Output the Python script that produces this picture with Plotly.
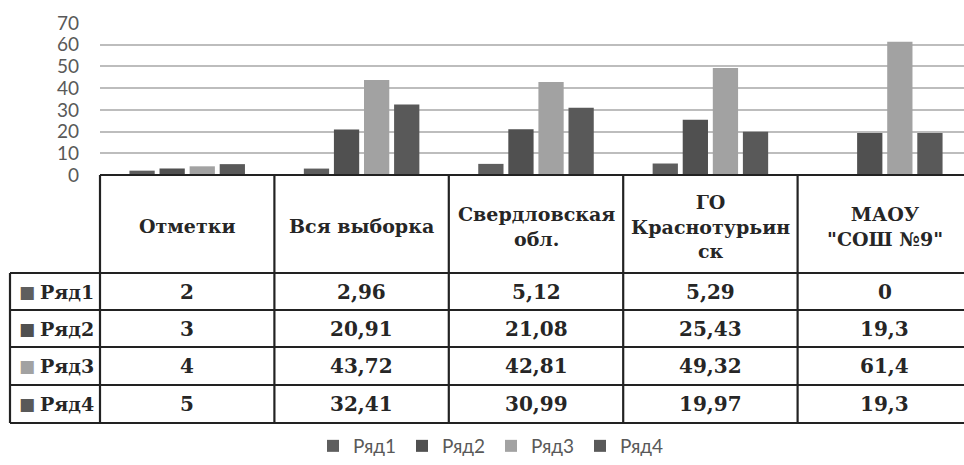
import plotly.graph_objects as go

categories = ["Отметки", "Вся выборка", "Свердловская обл.", "ГО Краснотурьинск", "МАОУ \"СОШ №9\""]
header_labels = ["Отметки", "Вся выборка", "Свердловская<br>обл.", "ГО<br>Краснотурьин<br>ск", "МАОУ<br>\"СОШ №9\""]
series_names = ["Ряд1", "Ряд2", "Ряд3", "Ряд4"]
row1 = [2, 2.96, 5.12, 5.29, 0]
row2 = [3, 20.91, 21.08, 25.43, 19.3]
row3 = [4, 43.72, 42.81, 49.32, 61.4]
row4 = [5, 32.41, 30.99, 19.97, 19.3]
series_values = [row1, row2, row3, row4]
y_ticks = [0, 10, 20, 30, 40, 50, 60, 70]

colors = ["#5e5e5e", "#505050", "#a2a2a2", "#595959"]

W, H = 964, 465
def px(x):
    return x / W
def py(y):
    return 1 - y / H

x_left = 100
cat_w = 174.4
y_top_axis = 23
y_zero = 175
row_lines = [273, 310, 347, 385, 423]
n = len(categories)

fig = go.Figure()
for name, vals, c in zip(series_names, series_values, colors):
    fig.add_trace(go.Bar(x=categories, y=vals, name=name, marker=dict(color=c, line=dict(width=0))))

fig.update_layout(
    width=W, height=H,
    margin=dict(l=0, r=0, t=0, b=0, pad=0),
    paper_bgcolor="white", plot_bgcolor="white",
    barmode="group", bargap=0.31, bargroupgap=0.16,
    font=dict(family="Lato, sans-serif", color="#595959"),
    xaxis=dict(domain=[px(x_left), 1], range=[-0.5, -0.5 + (W - x_left) / cat_w], automargin=False,
               showticklabels=False, showgrid=False, zeroline=False, showline=False, fixedrange=True),
    yaxis=dict(domain=[py(y_zero), py(y_top_axis)], range=[0, 70], tickvals=y_ticks, automargin=False,
               showgrid=True, gridcolor="#bdbdbd", gridwidth=1.5, zeroline=False, showline=False,
               tickfont=dict(size=19, color="#595959", family="Lato, sans-serif"),
               ticklabelstandoff=20),
    legend=dict(orientation="h", x=px(313), xanchor="left", y=py(446), yanchor="middle",
                font=dict(size=19, color="#595959", family="Lato, sans-serif"),
                itemwidth=30, entrywidth=44, entrywidthmode="pixels", traceorder="normal"),
    showlegend=True,
)

shapes = []
lc = "#222222"
lw = 2.2
shapes.append(dict(type="line", xref="paper", yref="paper", x0=px(x_left), x1=1, y0=py(y_zero), y1=py(y_zero), line=dict(color=lc, width=lw)))
for yl in row_lines:
    shapes.append(dict(type="line", xref="paper", yref="paper", x0=px(10), x1=1, y0=py(yl), y1=py(yl), line=dict(color=lc, width=lw)))
shapes.append(dict(type="line", xref="paper", yref="paper", x0=px(10), x1=px(10), y0=py(row_lines[0]), y1=py(row_lines[-1]), line=dict(color=lc, width=lw)))
for k in range(n):
    xv = x_left + k * cat_w
    shapes.append(dict(type="line", xref="paper", yref="paper", x0=px(xv), x1=px(xv), y0=py(y_zero), y1=py(row_lines[-1]), line=dict(color=lc, width=lw)))

annotations = []
serif = "DejaVu Serif, serif"
tcol = "#262626"
hdr_y = (y_zero + row_lines[0]) / 2 + 2
for k, lab in enumerate(header_labels):
    cx = x_left + (k + 0.5) * cat_w
    annotations.append(dict(xref="paper", yref="paper", x=px(cx), y=py(hdr_y), text="<b>" + lab + "</b>",
                            showarrow=False, xanchor="center", yanchor="middle",
                            font=dict(family=serif, size=19, color=tcol)))

def fmt(v):
    return ("%g" % v).replace(".", ",")

for r, (name, vals, c) in enumerate(zip(series_names, series_values, colors)):
    ry = (row_lines[r] + row_lines[r + 1]) / 2
    annotations.append(dict(xref="paper", yref="paper", x=px(27), y=py(ry), text="■",
                            showarrow=False, xanchor="center", yanchor="middle",
                            font=dict(family="DejaVu Sans", size=17, color=c)))
    annotations.append(dict(xref="paper", yref="paper", x=px(38), y=py(ry), text="<b>" + name + "</b>",
                            showarrow=False, xanchor="left", yanchor="middle",
                            font=dict(family=serif, size=19, color=tcol)))
    for k, v in enumerate(vals):
        cx = x_left + (k + 0.5) * cat_w
        annotations.append(dict(xref="paper", yref="paper", x=px(cx), y=py(ry), text="<b>" + fmt(v) + "</b>",
                                showarrow=False, xanchor="center", yanchor="middle",
                                font=dict(family=serif, size=20, color=tcol)))

fig.update_layout(shapes=shapes, annotations=annotations)
fig.write_html("out.html", config={"displayModeBar": False},
               post_script="document.body.style.margin='0px';document.body.style.overflow='hidden';")
